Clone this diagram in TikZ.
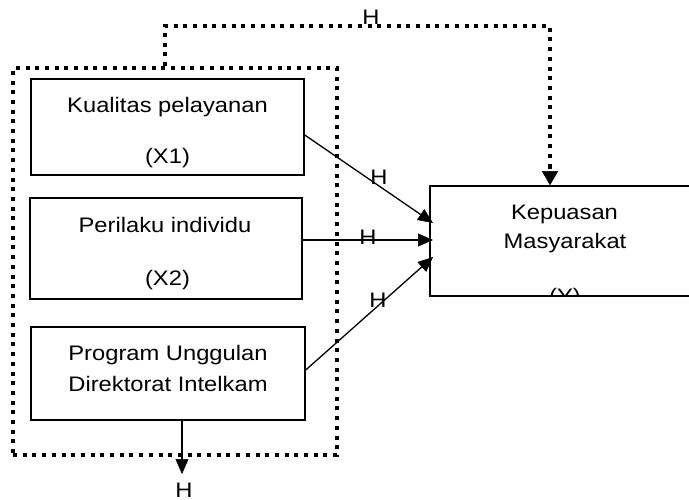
\documentclass[tikz,border=0pt]{standalone}
\usepackage{fontspec}
\setmainfont{Liberation Sans}[FakeStretch=1.13]
\usetikzlibrary{arrows.meta}
\begin{document}
\begin{tikzpicture}[x=1pt,y=-1pt,
  box/.style={draw,line width=1.5pt,inner sep=0pt},
  txt/.style={anchor=base,inner sep=0pt,font=\fontsize{21}{25}\selectfont},
  dotline/.style={line width=4pt,dash pattern=on 4pt off 5.7pt},
  arr/.style={line width=1.3pt,-{Triangle[length=15pt,width=13pt,line width=0.5pt]}},
  darr/.style={dotline,-{Triangle[length=14pt,width=16pt,line width=0.5pt]}}]
\useasboundingbox (0,0) rectangle (689,500);
\clip (0,0) rectangle (689,500);
% outer dotted group
\node[dotline,draw,minimum width=324pt,minimum height=387pt,inner sep=0pt] (grp) at (175,261.5) {};
% boxes
\node[box,minimum width=273pt,minimum height=96pt] (b1) at (167.5,127) {};
\node[box,minimum width=272pt,minimum height=101pt] (b2) at (166,248.5) {};
\node[box,minimum width=274pt,minimum height=93pt] (b3) at (168,373.5) {};
\node[box,minimum width=260pt,minimum height=110pt] (kep) at (560,241) {};
% texts
\node[txt] (t1a) at (167.5,113) {Kualitas pelayanan};
\node[txt] (t1b) at (167.5,164) {(X1)};
\node[txt] (t2a) at (165,233) {Perilaku individu};
\node[txt] (t2b) at (167.5,285) {(X2)};
\node[txt] (t3a) at (168,360) {Program Unggulan};
\node[txt] (t3b) at (168,391) {Direktorat Intelkam};
\node[txt] (tya) at (564.5,220) {Kepuasan};
\node[txt] (tyb) at (565,248) {Masyarakat};
\begin{scope}
\clip (431,187) rectangle (689,294.5);
\node[txt] (tyc) at (565,304) {(Y)};
\end{scope}
% arrows
\coordinate (k1) at (433,223);
\coordinate (k2) at (433,240);
\coordinate (k3) at (433,257);
\draw[arr] (b1.east |- 0,135) -- (k1);
\draw[arr] (b2.east |- 0,240) -- (k2);
\draw[arr] (b3.east |- 0,370) -- (k3);
\node[txt] (h1) at (379,185) {H};
\node[txt] (h2) at (368,244) {H};
\node[txt] (h3) at (378,307) {H};
% down arrow
\coordinate (dn) at (182,474);
\draw[arr] (b3.south -| dn) -- (dn);
\node[txt] (h4) at (184,497) {H};
% top dotted path
\coordinate (c1) at (165,26);
\coordinate (c2) at (550,26);
\draw[dotline] (grp.north -| c1) -- (c1) -- (c2) -- (550,170);
\draw[darr] (550,165) -- (kep.north -| c2);
\node[txt] (h5) at (371,25) {H};
\end{tikzpicture}
\end{document}
